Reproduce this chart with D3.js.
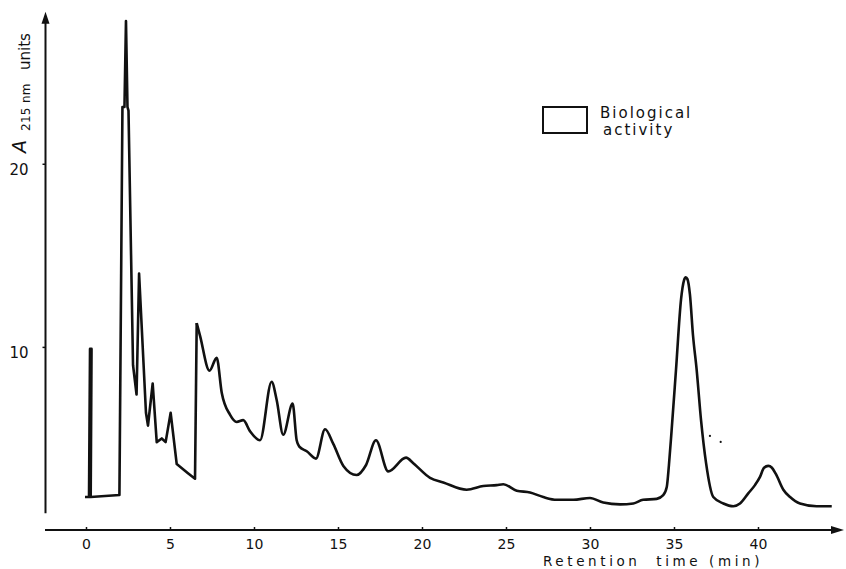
<!DOCTYPE html>
<html>
<head>
<meta charset="utf-8">
<title>Retention time trace</title>
<script src="https://cdn.jsdelivr.net/npm/d3@7"></script>
<style>
  body { margin: 0; background: #fff; }
  svg text { font-family: "DejaVu Sans", sans-serif; fill: #111; }
</style>
</head>
<body>
<script>
// front part of the trace (injection spike + sharp early peaks), time in min
var earlyTime = [-0.06, 0.18, 0.24, 0.33, 0.28, 1.99, 2.17, 2.29, 2.38, 2.47,
                 2.53, 2.80, 3.01, 3.16, 3.57, 3.69, 3.97, 4.21, 4.51, 4.74,
                 5.04, 5.40, 6.07, 6.49, 6.59];
var earlyAbs = [1.80, 1.80, 9.89, 9.89, 1.80, 1.91, 23.1, 23.1, 27.8, 23.1,
                22.9, 9.0, 7.4, 14.0, 6.4, 5.7, 8.0, 4.8, 5.0, 4.8,
                6.4, 3.6, 3.1, 2.8, 11.3];

// rest of the trace, drawn smooth
var lateTime = [6.59, 6.79, 7.35, 7.78, 8.08, 8.57, 8.97, 9.36, 9.76, 10.36,
                11.05, 11.35, 11.74, 12.30, 12.54, 12.70, 13.14, 13.69, 14.23, 14.72,
                15.32, 16.11, 16.67, 17.26, 17.99, 19.05, 19.48, 20.48, 21.27, 22.66,
                23.65, 24.45, 24.84, 25.64, 26.43, 27.22, 28.02, 29.01, 30.00, 30.79,
                31.79, 32.58, 33.16, 33.97, 34.36, 34.57, 34.70, 34.86, 35.12, 35.42,
                35.60, 35.70, 35.80, 35.95, 36.13, 36.35, 36.61, 36.91, 37.34, 37.94,
                38.53, 38.93, 39.42, 39.82, 40.12, 40.36, 40.61, 40.83, 41.07, 41.51,
                41.91, 42.50, 43.49, 44.39];
var lateAbs = [11.3, 10.6, 8.7, 9.4, 7.5, 6.3, 5.9, 6.0, 5.4, 4.9,
               8.1, 7.1, 5.2, 6.9, 4.9, 4.55, 4.3, 3.9, 5.5, 4.7,
               3.5, 3.0, 3.55, 4.9, 3.2, 3.95, 3.65, 2.85, 2.6, 2.2,
               2.4, 2.45, 2.5, 2.15, 2.05, 1.8, 1.65, 1.65, 1.75, 1.5,
               1.4, 1.45, 1.65, 1.7, 1.9, 2.35, 3.55, 5.45, 8.75, 12.6,
               13.65, 13.8, 13.7, 12.85, 10.65, 8.75, 6.0, 3.65, 1.8, 1.45,
               1.3, 1.45, 2.0, 2.45, 2.9, 3.4, 3.5, 3.4, 3.05, 2.2,
               1.8, 1.45, 1.3, 1.3];

// two stray pen dots right of the big peak
var speckTime = [37.14, 37.78];
var speckAbs = [5.14, 4.81];

var xTicks = [0, 5, 10, 15, 20, 25, 30, 35, 40];
var yTicks = [10, 20];
var legendLines = ["Biological", "activity"];
var xTitle = "Retention\u00a0 time (min)";

window.onload = function(){
    var w = 846, h = 569;

    var svg = d3.select("body")
        .append("svg")
        .attr("width", w)
        .attr("height", h);

    //scales (hand drawn axes: x line runs 45..844, y arrow tip near the top)
    var x = d3.scaleLinear()
        .domain([-2.44, 45.12])
        .range([45, 844]);
    var y = d3.scaleLinear()
        .domain([0, 28.3])
        .range([530, 11.8]);

    //x axis
    var xAxis = d3.axisBottom(x)
        .tickValues(xTicks)
        .tickSizeInner(-3)
        .tickSizeOuter(0)
        .tickPadding(9);
    var gx = svg.append("g")
        .attr("transform", "translate(0," + y(0) + ")")
        .call(xAxis)
        .attr("font-family", "DejaVu Sans, sans-serif")
        .attr("font-size", 14); //after call, d3 sets its own size
    gx.select(".domain").remove();
    gx.selectAll(".tick line").attr("stroke", "#111").attr("stroke-width", 1.5);

    svg.append("line")
        .attr("x1", x.range()[0])
        .attr("x2", x.range()[1] - 8)
        .attr("y1", y(0))
        .attr("y2", y(0))
        .attr("stroke", "#111")
        .attr("stroke-width", 2);
    //arrow head on the time axis
    var xe = x.range()[1], y0 = y(0);
    svg.append("path")
        .attr("d", "M" + xe + "," + y0 + "L" + (xe - 13) + "," + (y0 - 4) +
                   "L" + (xe - 13) + "," + (y0 + 4) + "Z")
        .attr("fill", "#111");

    //y axis
    var yAxis = d3.axisLeft(y)
        .tickValues(yTicks)
        .tickSizeInner(3)
        .tickSizeOuter(0)
        .tickPadding(14);
    var gy = svg.append("g")
        .attr("transform", "translate(45.5,0)")
        .call(yAxis)
        .attr("font-family", "DejaVu Sans, sans-serif")
        .attr("font-size", 15);
    gy.select(".domain").remove();
    gy.selectAll(".tick line").attr("stroke", "#111").attr("stroke-width", 1.5);
    gy.selectAll(".tick text").attr("dy", "0.72em");

    var yt = y.range()[1];
    svg.append("line")
        .attr("x1", 45.5)
        .attr("x2", 45.5)
        .attr("y1", y(0.92))
        .attr("y2", yt + 8)
        .attr("stroke", "#111")
        .attr("stroke-width", 2);
    svg.append("path")
        .attr("d", "M45.5," + yt + "L41.5," + (yt + 12) + "L49.5," + (yt + 12) + "Z")
        .attr("fill", "#111");

    //y axis title, rotated
    var yTitle = svg.append("text")
        .attr("transform", "translate(26,153) rotate(-90)");
    yTitle.append("tspan")
        .attr("x", 0)
        .style("font-size", "19px")
        .style("font-style", "italic")
        .text("A");
    yTitle.append("tspan")
        .attr("x", 22)
        .attr("dy", 4)
        .style("font-size", "12px")
        .style("letter-spacing", "0.3px")
        .text("215 nm");
    yTitle.append("tspan")
        .attr("x", 83)
        .style("font-size", "15px")
        .text("units");

    //x axis title
    svg.append("text")
        .attr("x", 543)
        .attr("y", 565.5)
        .style("font-size", "13.5px")
        .style("letter-spacing", "3.6px")
        .text(xTitle);

    //legend
    svg.append("rect")
        .attr("x", 543)
        .attr("y", 107)
        .attr("width", 44)
        .attr("height", 26)
        .attr("fill", "none")
        .attr("stroke", "#111")
        .attr("stroke-width", 2);
    svg.selectAll(".legendText")
        .data(legendLines)
        .enter()
        .append("text")
        .attr("class", "legendText")
        .attr("x", function(d, i){ return 600 + i * 3; })
        .attr("y", function(d, i){ return 118 + i * 17; })
        .style("font-size", "15px")
        .style("letter-spacing", "2px")
        .text(function(d){ return d; });

    //trace
    var early = earlyTime.map(function(t, i){ return [t, earlyAbs[i]]; });
    var late = lateTime.map(function(t, i){ return [t, lateAbs[i]]; });

    var sharpLine = d3.line()
        .x(function(d){ return x(d[0]); })
        .y(function(d){ return y(d[1]); });
    var smoothLine = d3.line()
        .curve(d3.curveMonotoneX)
        .x(function(d){ return x(d[0]); })
        .y(function(d){ return y(d[1]); });

    svg.append("path")
        .datum(early)
        .attr("d", sharpLine)
        .attr("fill", "none")
        .attr("stroke", "#111")
        .attr("stroke-width", 2.6)
        .attr("stroke-linejoin", "round");
    svg.append("path")
        .datum(late)
        .attr("d", smoothLine)
        .attr("fill", "none")
        .attr("stroke", "#111")
        .attr("stroke-width", 2.6)
        .attr("stroke-linejoin", "round");

    svg.selectAll(".speck")
        .data(speckTime)
        .enter()
        .append("circle")
        .attr("class", "speck")
        .attr("cx", function(d){ return x(d); })
        .attr("cy", function(d, i){ return y(speckAbs[i]); })
        .attr("r", 1.1)
        .attr("fill", "#111");
};
</script>
</body>
</html>
